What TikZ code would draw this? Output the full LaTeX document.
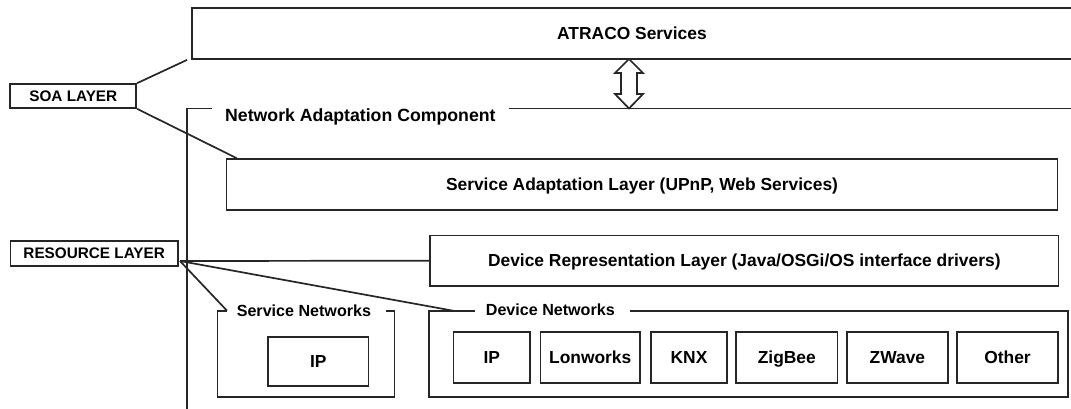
\documentclass[tikz,border=0pt]{standalone}
\usepackage{fontspec}
\setmainfont{Liberation Sans}
\usetikzlibrary{calc}
\begin{document}
\begin{tikzpicture}[x=1pt,y=-1pt,
  ln/.style={draw=black!85,line width=1.7pt},
  box/.style={ln,rectangle,inner sep=0pt,font=\fontsize{17.4}{20}\selectfont\bfseries,
    text height=12.5pt,text depth=0pt,align=center},
  tag/.style={box,font=\fontsize{15.3}{18}\selectfont\bfseries,text height=11pt},
  title/.style={inner sep=0pt,anchor=west,font=\fontsize{17.7}{20}\selectfont\bfseries,
    text height=12.7pt,text depth=0pt},
  nettitle/.style={title,font=\fontsize{16.1}{19}\selectfont\bfseries,text height=11.5pt},
]
\useasboundingbox (0,0) rectangle (1071,408);

% service layer on top
\node[box,minimum width=880pt,minimum height=51pt] (atraco) at (632,33.5) {ATRACO Services};

% network adaptation component (open frame)
\coordinate (nacTL) at (187.3,108.5);
\draw[ln] (187.3,412) -- (nacTL) -- (212.3,108.5);
\draw[ln] (508.6,108.5) -- (1075,108.5);
\node[title] (naclbl) at (225,114.7) {Network Adaptation Component};

% two-way arrow between services and the component
\coordinate (arrTop) at (629,59);
\draw[ln,fill=white,line join=miter] (arrTop) -- ++(14,14) -- ++(-6,0) -- ++(0,21) -- ++(6,0)
  -- (629,108.5) -- ++(-14,-14.5) -- ++(6,0) -- ++(0,-21) -- ++(-6,0) -- cycle;

% adaptation layers
\node[box,minimum width=831pt,minimum height=51pt] (sal) at (642,184.5)
  {Service Adaptation Layer (UPnP, Web Services)};
\node[box,minimum width=628.6pt,minimum height=50.7pt] (drl) at (744.3,260.7)
  {Device Representation Layer (Java/OSGi/OS interface drivers)};

% layer tags
\node[tag,minimum width=126pt,minimum height=24pt] (soa) at (73.3,96) {SOA LAYER};
\node[tag,minimum width=167.7pt,minimum height=25.3pt] (res) at (94.2,253.3) {RESOURCE LAYER};

% service networks group
\coordinate (snA) at (227,310.7);
\draw[ln] (snA) -- (217.6,310.7) -- (217.6,396.7) -- (394.5,396.7) -- (394.5,310.7) -- (385.7,310.7);
\node[nettitle] (snlbl) at (236.6,311.2) {Service Networks};
\node[box,minimum width=100.5pt,minimum height=49.3pt] (sip) at (318.3,361.3) {IP};

% device networks group
\coordinate (dnA) at (453,310.7);
\draw[ln] (475,310.7) -- (429.3,310.7) -- (429.3,396.7) -- (1068,396.7) -- (1068,310.7) -- (630,310.7);
\node[nettitle] (dnlbl) at (485.7,310) {Device Networks};
\node[box,minimum width=76.5pt,minimum height=51pt] (dip) at (491.8,357.2) {IP};
\node[box,minimum width=99.7pt,minimum height=51pt] (lon) at (590.2,357.2) {Lonworks};
\node[box,minimum width=76pt,minimum height=51pt] (knx) at (689,357.2) {KNX};
\node[box,minimum width=101.5pt,minimum height=51pt] (zig) at (786.8,357.2) {ZigBee};
\node[box,minimum width=100.7pt,minimum height=51pt] (zw) at (897.4,357.2) {ZWave};
\node[box,minimum width=101pt,minimum height=51pt] (oth) at (1007.5,357.2) {Other};

% connectors from the layer tags
\draw[ln] (soa.north east) -- ($(atraco.south west)+(-4,0)$);
\draw[ln] (soa.south east) -- ($(sal.north west)+(11,0)$);
\coordinate (rsrc) at (180,261);
\draw[ln] (rsrc) -- (drl.west);
\draw[ln] (rsrc) -- (dnA);
\draw[ln] (rsrc) -- (snA);
\end{tikzpicture}
\end{document}
